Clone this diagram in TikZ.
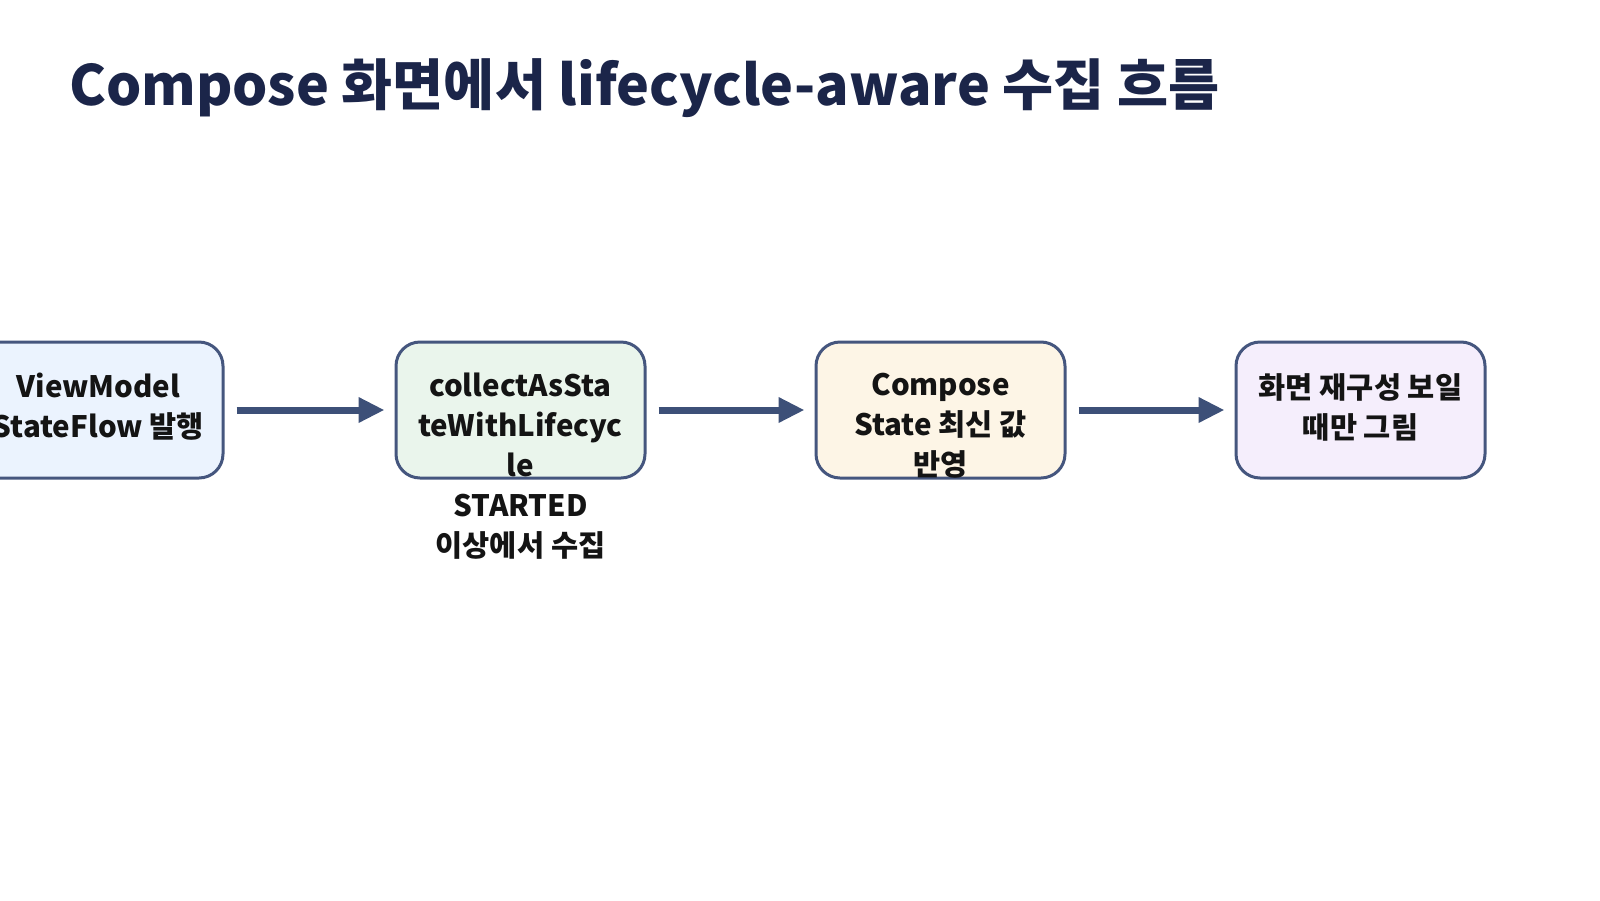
\documentclass[tikz,border=0pt]{standalone}
\usepackage{fontspec}
\setmainfont{Noto Sans CJK KR}
\usetikzlibrary{arrows.meta}
\definecolor{titlec}{HTML}{1B2549}
\definecolor{boxline}{HTML}{45567E}
\definecolor{arrowc}{HTML}{3D5078}
\definecolor{ink}{HTML}{141414}
\definecolor{fa}{HTML}{EBF3FE}
\definecolor{fb}{HTML}{EAF5EC}
\definecolor{fc}{HTML}{FDF5E6}
\definecolor{fd}{HTML}{F5EEFC}
\begin{document}
\begin{tikzpicture}[x=1pt,y=-1pt,
  box/.style={draw=boxline, line width=3pt, rounded corners=24pt, minimum width=249pt, minimum height=136pt, inner sep=0pt},
  lbl/.style={font=\fontsize{29.5}{40}\selectfont\bfseries, text=ink, align=center, anchor=north, inner sep=0pt},
  flow/.style={draw=arrowc, line width=7pt, -{Triangle[length=26pt,width=24pt]}, shorten <=12pt, shorten >=10pt}]
\useasboundingbox (0,0) rectangle (1600,900);
\node[anchor=base west, inner sep=0pt, font=\fontsize{55.5}{62}\selectfont\bfseries, text=titlec] (title) at (69,105) {Compose 화면에서 lifecycle-aware 수집 흐름};
\node[box, fill=fa] (b1) at (98.5,410) {};
\node[box, fill=fb] (b2) at (520.5,410) {};
\node[box, fill=fc] (b3) at (940.5,410) {};
\node[box, fill=fd] (b4) at (1360.5,410) {};
\node[lbl] (t1) at (98.5,373) {ViewModel\\StateFlow 발행};
\node[lbl] (t2) at (520.5,373) {collectAsSta\\teWithLifecyc\\le\\STARTED\\이상에서 수집};
\node[lbl] (t3) at (940.5,373) {Compose\\State 최신 값\\반영};
\node[lbl] (t4) at (1360.5,373) {화면 재구성 보일\\때만 그림};
\draw[flow] (b1) -- (b2);
\draw[flow] (b2) -- (b3);
\draw[flow] (b3) -- (b4);
\end{tikzpicture}
\end{document}
